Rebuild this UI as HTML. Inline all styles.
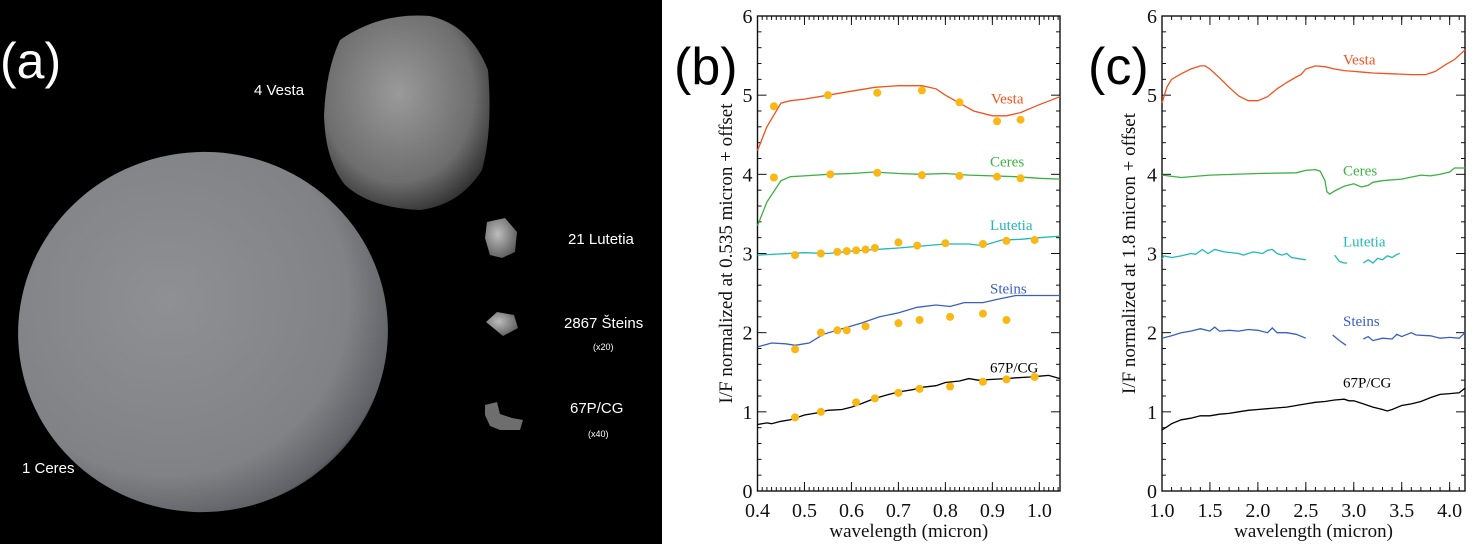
<!DOCTYPE html>
<html><head><meta charset="utf-8"><style>
html,body{margin:0;padding:0;background:#fff;width:1476px;height:544px;overflow:hidden}
svg{display:block}
.tk{font-family:"Liberation Serif",serif;font-size:20px;fill:#111}
.tt{font-family:"Liberation Serif",serif;font-size:19px;fill:#111}
.lb{font-family:"Liberation Serif",serif;font-size:15px}
.wt{font-family:"Liberation Sans",sans-serif;fill:#fff}
</style></head><body>
<svg id="fig" width="1476" height="544" xmlns="http://www.w3.org/2000/svg">
<defs>
<radialGradient id="ceresG" cx="0.42" cy="0.4" r="0.65">
<stop offset="0" stop-color="#8e9094"/><stop offset="0.75" stop-color="#808286"/><stop offset="0.95" stop-color="#5f6166"/><stop offset="1" stop-color="#2a2c33"/></radialGradient>
<radialGradient id="vestaG" cx="0.45" cy="0.4" r="0.65">
<stop offset="0" stop-color="#9a9a9a"/><stop offset="0.7" stop-color="#6e6e6e"/><stop offset="1" stop-color="#2e2e2e"/></radialGradient>
<radialGradient id="smallG" cx="0.4" cy="0.4" r="0.7">
<stop offset="0" stop-color="#bdbdbd"/><stop offset="1" stop-color="#555"/></radialGradient>
</defs>
<g>
<rect x="0" y="0" width="662" height="544" fill="#000"/>
<ellipse cx="203" cy="332" rx="185" ry="180" transform="rotate(-8 203 332)" fill="url(#ceresG)"/>
<path d="M340,40 Q380,12 430,16 Q470,25 488,70 Q493,130 482,170 Q460,205 420,210 Q370,208 345,185 Q325,160 324,115 Q326,70 340,40Z" fill="url(#vestaG)"/>
<path d="M487,222 L505,218 L517,232 L515,252 L502,258 L490,255 L485,238Z" fill="url(#smallG)"/>
<path d="M486,322 L497,312 L514,315 L518,328 L503,336 Z" fill="url(#smallG)"/>
<path d="M485,405 L497,402 L500,414 L512,418 L523,420 L520,430 L500,430 L490,426 L485,415Z" fill="#6e6e6e"/>
<text class="wt" x="0" y="78" font-size="50">(a)</text>
<text class="wt" x="254" y="95" font-size="15">4 Vesta</text>
<text class="wt" x="568" y="244" font-size="15">21 Lutetia</text>
<text class="wt" x="564" y="328" font-size="15">2867 Šteins</text>
<text class="wt" x="593" y="350" font-size="9">(x20)</text>
<text class="wt" x="570" y="413" font-size="15">67P/CG</text>
<text class="wt" x="588" y="437" font-size="9">(x40)</text>
<text class="wt" x="22" y="473" font-size="15">1 Ceres</text>
</g>
<text x="674" y="84" font-family="Liberation Sans,sans-serif" font-size="52">(b)</text>
<text x="1088" y="84" font-family="Liberation Sans,sans-serif" font-size="52">(c)</text>
<g id="pb"></g><g id="pc"></g>
</svg>
<script>
// ---- panel b data ----
const bVestaX=[0.40,0.42,0.45,0.47,0.50,0.55,0.60,0.65,0.70,0.75,0.78,0.80,0.83,0.86,0.90,0.93,0.96,1.00,1.044];
const bVestaY=[4.30,4.60,4.90,4.93,4.95,5.00,5.05,5.10,5.12,5.12,5.08,5.00,4.90,4.80,4.74,4.74,4.78,4.88,4.98];
const bVestaDotX=[0.435,0.55,0.655,0.75,0.83,0.91,0.96];
const bVestaDotY=[4.86,5.00,5.03,5.06,4.91,4.67,4.69];
const bCeresX=[0.40,0.42,0.45,0.47,0.50,0.55,0.60,0.65,0.70,0.75,0.80,0.85,0.90,0.95,1.00,1.044];
const bCeresY=[3.35,3.65,3.92,3.97,3.98,4.00,4.01,4.03,4.01,4.00,4.01,3.99,3.98,3.97,3.95,3.94];
const bCeresDotX=[0.435,0.555,0.655,0.75,0.83,0.91,0.96];
const bCeresDotY=[3.96,4.00,4.02,3.99,3.98,3.97,3.95];
const bLutX=[0.40,0.50,0.55,0.60,0.70,0.80,0.85,0.88,0.92,0.96,1.00,1.044];
const bLutY=[2.98,3.01,3.00,3.03,3.07,3.12,3.12,3.10,3.17,3.18,3.20,3.22];
const bLutDotX=[0.48,0.535,0.57,0.59,0.61,0.63,0.65,0.70,0.74,0.80,0.88,0.93,0.99];
const bLutDotY=[2.98,3.00,3.02,3.03,3.04,3.05,3.07,3.14,3.10,3.13,3.12,3.16,3.17];
const bSteX=[0.40,0.43,0.46,0.48,0.51,0.54,0.58,0.62,0.66,0.70,0.74,0.78,0.81,0.84,0.88,0.91,0.95,1.044];
const bSteY=[1.82,1.87,1.86,1.84,1.87,1.98,2.05,2.12,2.20,2.25,2.32,2.35,2.33,2.38,2.38,2.42,2.47,2.47];
const bSteDotX=[0.48,0.535,0.57,0.59,0.63,0.70,0.745,0.81,0.88,0.93];
const bSteDotY=[1.79,2.00,2.03,2.03,2.08,2.12,2.16,2.20,2.24,2.16];
const bCgX=[0.40,0.42,0.43,0.45,0.47,0.50,0.53,0.55,0.58,0.60,0.62,0.65,0.68,0.70,0.73,0.75,0.78,0.80,0.83,0.85,0.87,0.90,0.93,0.95,0.98,1.00,1.02,1.044];
const bCgY=[0.84,0.86,0.85,0.88,0.90,0.96,0.99,1.02,1.03,1.06,1.10,1.17,1.22,1.25,1.28,1.31,1.33,1.37,1.39,1.42,1.40,1.41,1.42,1.43,1.44,1.45,1.46,1.42];
const bCgDotX=[0.48,0.535,0.61,0.65,0.70,0.745,0.81,0.88,0.93,0.99];
const bCgDotY=[0.93,1.00,1.12,1.17,1.24,1.29,1.32,1.38,1.41,1.44];
const bXTicks=[0.4,0.5,0.6,0.7,0.8,0.9,1.0];
// ---- panel c data ----
const cVestaX=[1.0,1.05,1.1,1.2,1.3,1.4,1.45,1.5,1.6,1.7,1.8,1.9,2.0,2.1,2.2,2.3,2.4,2.45,2.5,2.6,2.7,2.8,2.9,3.0,3.1,3.2,3.4,3.6,3.75,3.85,3.95,4.05,4.16];
const cVestaY=[4.90,5.10,5.20,5.27,5.33,5.37,5.37,5.33,5.22,5.10,4.99,4.93,4.93,4.98,5.08,5.16,5.23,5.26,5.33,5.37,5.36,5.33,5.31,5.30,5.29,5.28,5.27,5.26,5.26,5.30,5.38,5.45,5.57];
const cCeresX=[1.0,1.2,1.5,2.0,2.4,2.5,2.6,2.65,2.7,2.72,2.75,2.8,2.9,3.0,3.08,3.15,3.2,3.3,3.5,3.7,3.8,3.9,4.0,4.05,4.16];
const cCeresY=[3.99,3.96,3.99,4.01,4.02,4.05,4.06,4.04,3.92,3.78,3.75,3.79,3.85,3.88,3.84,3.86,3.90,3.92,3.94,3.99,3.98,4.00,4.03,4.08,4.08];
const cLut1X=[1.0,1.02,1.1,1.2,1.3,1.35,1.42,1.48,1.55,1.65,1.8,1.85,1.95,2.05,2.1,2.15,2.2,2.25,2.3,2.35,2.5];
const cLut1Y=[2.93,2.97,2.95,2.97,3.00,2.99,3.05,3.00,3.05,3.02,3.00,2.98,3.02,3.00,3.04,3.05,3.00,2.98,3.00,2.95,2.92];
const cLut2X=[2.8,2.85,2.9,2.93];
const cLut2Y=[2.98,2.90,2.88,2.88];
const cLut3X=[3.1,3.15,3.2,3.25,3.3,3.35,3.4,3.45,3.48];
const cLut3Y=[2.88,2.92,2.88,2.94,2.92,2.97,2.95,2.99,3.00];
const cSte1X=[1.0,1.1,1.2,1.3,1.4,1.5,1.55,1.6,1.7,1.8,1.9,2.0,2.1,2.15,2.2,2.3,2.4,2.5];
const cSte1Y=[1.93,1.96,2.00,2.02,2.05,2.02,2.07,2.02,2.03,2.02,2.04,2.03,2.00,2.06,2.00,2.00,1.98,1.93];
const cSte2X=[2.78,2.85,2.92];
const cSte2Y=[1.97,1.90,1.84];
const cSte3X=[3.1,3.15,3.2,3.3,3.4,3.45,3.5,3.6,3.65,3.8,3.9,4.0,4.1,4.16];
const cSte3Y=[1.92,1.95,1.90,1.93,1.92,1.98,1.95,2.00,1.97,1.96,1.93,1.94,1.93,2.00];
const cCgX=[1.0,1.05,1.1,1.2,1.3,1.4,1.5,1.6,1.7,1.8,1.9,2.0,2.1,2.2,2.3,2.4,2.5,2.6,2.7,2.8,2.9,2.95,3.0,3.1,3.2,3.3,3.35,3.4,3.5,3.6,3.7,3.8,3.9,4.0,4.1,4.16];
const cCgY=[0.77,0.81,0.85,0.90,0.92,0.95,0.95,0.97,0.98,1.00,1.02,1.03,1.04,1.05,1.06,1.08,1.10,1.12,1.13,1.15,1.16,1.14,1.14,1.10,1.06,1.03,1.01,1.03,1.08,1.10,1.13,1.18,1.22,1.23,1.24,1.30];
const cXTicks=[1.0,1.5,2.0,2.5,3.0,3.5,4.0];

const NS='http://www.w3.org/2000/svg';
const VE='#f4511e',CE='#3cb043',LU='#20b8b8',ST='#3a5fc0',CG='#000';
function mk(parent,tag,attrs){const e=document.createElementNS(NS,tag);for(const k in attrs)e.setAttribute(k,attrs[k]);parent.appendChild(e);return e;}
function makePanel(g,L,R,T,B,xmin,xmax,majors,minorStep,fmt,ytitle,titleX){
  const sx=v=>L+(v-xmin)/(xmax-xmin)*(R-L);
  const sy=v=>B-(v/6)*(B-T);
  const ax=mk(g,'g',{});
  
  
  mk(ax,'rect',{x:L,y:T,width:R-L,height:B-T,fill:'none',stroke:'#111','stroke-width':1.4});
  for(let v=xmin;v<=xmax+1e-9;v+=minorStep){const x=sx(v);mk(ax,'line',{x1:x,x2:x,y1:B,y2:B-4,stroke:'#111'});mk(ax,'line',{x1:x,x2:x,y1:T,y2:T+4,stroke:'#111'});}
  majors.forEach(v=>{const x=sx(v);mk(ax,'line',{x1:x,x2:x,y1:B,y2:B-9,stroke:'#111'});mk(ax,'line',{x1:x,x2:x,y1:T,y2:T+9,stroke:'#111'});
    const t=mk(ax,'text',{x:x,y:B+26,'text-anchor':'middle',class:'tk'});t.textContent=fmt(v);
    
    });
  for(let v=0;v<=6.001;v+=0.2){const y=sy(v);const maj=Math.abs(v-Math.round(v))<1e-6;const w=maj?9:4;
    mk(ax,'line',{x1:L,x2:L+w,y1:y,y2:y,stroke:'#111'});mk(ax,'line',{x1:R,x2:R-w,y1:y,y2:y,stroke:'#111'});
    if(maj){const t=mk(ax,'text',{x:L-5,y:y+7,'text-anchor':'end',class:'tk'});t.textContent=String(Math.round(v));
      
      }}
  const xt=mk(g,'text',{x:(L+R)/2,y:B+46,'text-anchor':'middle',class:'tt'});xt.textContent='wavelength (micron)';
  
  
  const yt=mk(g,'text',{x:0,y:0,'text-anchor':'middle',class:'tt',transform:`translate(${titleX},${(T+B)/2}) rotate(-90)`});yt.textContent=ytitle;
  
  
  return {sx,sy};
}
function line(g,s,xs,ys,col,name){const d=xs.map((x,i)=>(i?'L':'M')+s.sx(x).toFixed(1)+','+s.sy(ys[i]).toFixed(1)).join('');
  const p=mk(g,'path',{d:d,fill:'none',stroke:col,'stroke-width':1.3});
  
  }
function dots(g,s,xs,ys,name){xs.forEach((x,i)=>{const c=mk(g,'circle',{cx:s.sx(x),cy:s.sy(ys[i]),r:4,fill:'#fbb714'});
  
  });}
function label(g,x,y,txt,col,name){const t=mk(g,'text',{x:x,y:y,fill:col,class:'lb'});t.textContent=txt;
  
  }

const gb=document.getElementById('pb');


const sb=makePanel(gb,757.5,1060,16,491,0.4,1.044,bXTicks,0.01,v=>v.toFixed(1),'I/F normalized at 0.535 micron + offset',732);
line(gb,sb,bVestaX,bVestaY,VE,'vesta-line');dots(gb,sb,bVestaDotX,bVestaDotY,'vesta-point');
line(gb,sb,bCeresX,bCeresY,CE,'ceres-line');dots(gb,sb,bCeresDotX,bCeresDotY,'ceres-point');
line(gb,sb,bLutX,bLutY,LU,'lutetia-line');dots(gb,sb,bLutDotX,bLutDotY,'lutetia-point');
line(gb,sb,bSteX,bSteY,ST,'steins-line');dots(gb,sb,bSteDotX,bSteDotY,'steins-point');
line(gb,sb,bCgX,bCgY,CG,'comet-line');dots(gb,sb,bCgDotX,bCgDotY,'comet-point');
label(gb,991,sb.sy(4.96)+5,'Vesta',VE,'vesta-label');
label(gb,990,sb.sy(4.16)+5,'Ceres',CE,'ceres-label');
label(gb,990,sb.sy(3.36)+5,'Lutetia',LU,'lutetia-label');
label(gb,990,sb.sy(2.56)+5,'Steins',ST,'steins-label');
label(gb,990,sb.sy(1.56)+5,'67P/CG',CG,'comet-label');

const gc=document.getElementById('pc');


const sc=makePanel(gc,1162,1465,16,491,1.0,4.16,cXTicks,0.1,v=>v.toFixed(1),'I/F normalized at 1.8 micron + offset',1135);
line(gc,sc,cVestaX,cVestaY,VE,'vesta-line');
line(gc,sc,cCeresX,cCeresY,CE,'ceres-line');
line(gc,sc,cLut1X,cLut1Y,LU,'lutetia-line');line(gc,sc,cLut2X,cLut2Y,LU,'lutetia-line');line(gc,sc,cLut3X,cLut3Y,LU,'lutetia-line');
line(gc,sc,cSte1X,cSte1Y,ST,'steins-line');line(gc,sc,cSte2X,cSte2Y,ST,'steins-line');line(gc,sc,cSte3X,cSte3Y,ST,'steins-line');
line(gc,sc,cCgX,cCgY,CG,'comet-line');
label(gc,1343,sc.sy(5.45)+5,'Vesta',VE,'vesta-label');
label(gc,1343,sc.sy(4.05)+5,'Ceres',CE,'ceres-label');
label(gc,1343,sc.sy(3.15)+5,'Lutetia',LU,'lutetia-label');
label(gc,1343,sc.sy(2.15)+5,'Steins',ST,'steins-label');
label(gc,1343,sc.sy(1.37)+5,'67P/CG',CG,'comet-label');
</script>
</body></html>
